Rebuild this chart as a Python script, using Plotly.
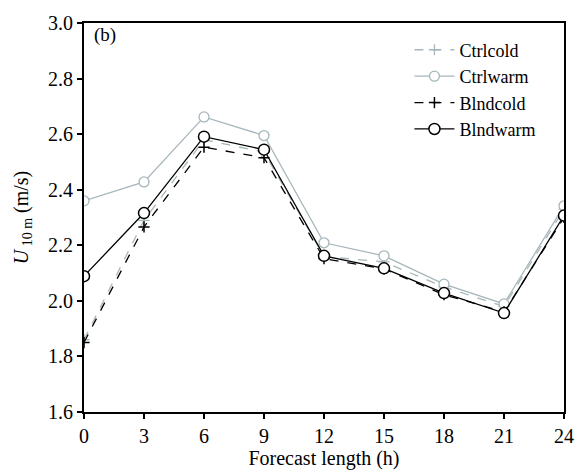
import plotly.graph_objects as go

hours = [0, 3, 6, 9, 12, 15, 18, 21, 24]
ctrlcold = [1.86, 2.29, 2.58, 2.535, 2.16, 2.14, 2.05, 1.98, 2.33]
ctrlwarm = [2.36, 2.428, 2.662, 2.595, 2.209, 2.162, 2.06, 1.989, 2.342]
blndcold = [1.85, 2.266, 2.553, 2.515, 2.152, 2.115, 2.022, 1.96, 2.30]
blndwarm = [2.089, 2.316, 2.591, 2.544, 2.162, 2.117, 2.028, 1.956, 2.307]
x_ticks = [0, 3, 6, 9, 12, 15, 18, 21, 24]
y_ticks = [1.6, 1.8, 2.0, 2.2, 2.4, 2.6, 2.8, 3.0]

GRAY = "#a7b6bb"
FONT = "Times New Roman, Liberation Serif, DejaVu Serif, serif"

fig = go.Figure()
fig.add_trace(go.Scatter(x=hours, y=ctrlcold, name="Ctrlcold", mode="lines+markers",
                         line=dict(color=GRAY, width=1.3, dash="dash"),
                         marker=dict(symbol="cross-thin", size=8, line=dict(color=GRAY, width=1.3))))
fig.add_trace(go.Scatter(x=hours, y=ctrlwarm, name="Ctrlwarm", mode="lines+markers",
                         line=dict(color=GRAY, width=1.3),
                         marker=dict(symbol="circle", size=10, color="white", line=dict(color=GRAY, width=1.3))))
fig.add_trace(go.Scatter(x=hours, y=blndcold, name="Blndcold", mode="lines+markers",
                         line=dict(color="black", width=1.3, dash="dash"),
                         marker=dict(symbol="cross-thin", size=8, line=dict(color="black", width=1.5))))
fig.add_trace(go.Scatter(x=hours, y=blndwarm, name="Blndwarm", mode="lines+markers",
                         line=dict(color="black", width=1.3),
                         marker=dict(symbol="circle", size=11, color="white", line=dict(color="black", width=1.5))))

fig.add_annotation(x=0.016, y=0.97, xref="paper", yref="paper", text="(b)", showarrow=False,
                   xanchor="left", yanchor="middle", font=dict(family=FONT, size=19, color="black"))

axis_common = dict(showgrid=False, zeroline=False, showline=True, linecolor="black", linewidth=2,
                   mirror=True, ticks="outside", ticklen=5, tickwidth=1.5, tickcolor="black",
                   tickfont=dict(family=FONT, size=20, color="black"))

fig.update_xaxes(range=[0, 24], tickvals=x_ticks, ticktext=[str(v) for v in x_ticks],
                 title=dict(text="Forecast length (h)", font=dict(family=FONT, size=20, color="black"), standoff=0),
                 **axis_common)
fig.update_yaxes(range=[1.6, 3.0], tickvals=y_ticks, ticktext=[f"{v:.1f}" for v in y_ticks],
                 title=dict(text="<i>U</i><sub> 10 m</sub> (m/s)", font=dict(family=FONT, size=20, color="black"), standoff=14),
                 **axis_common)

fig.update_layout(width=586, height=473, margin=dict(l=84, r=19, t=15, b=60),
                  plot_bgcolor="white", paper_bgcolor="white",
                  font=dict(family=FONT, color="black"),
                  legend=dict(x=0.678, y=0.978, xanchor="left", yanchor="top", bgcolor="rgba(0,0,0,0)",
                              font=dict(family=FONT, size=18, color="black"), tracegroupgap=0,
                              itemwidth=40))

fig.write_html("out.html")
